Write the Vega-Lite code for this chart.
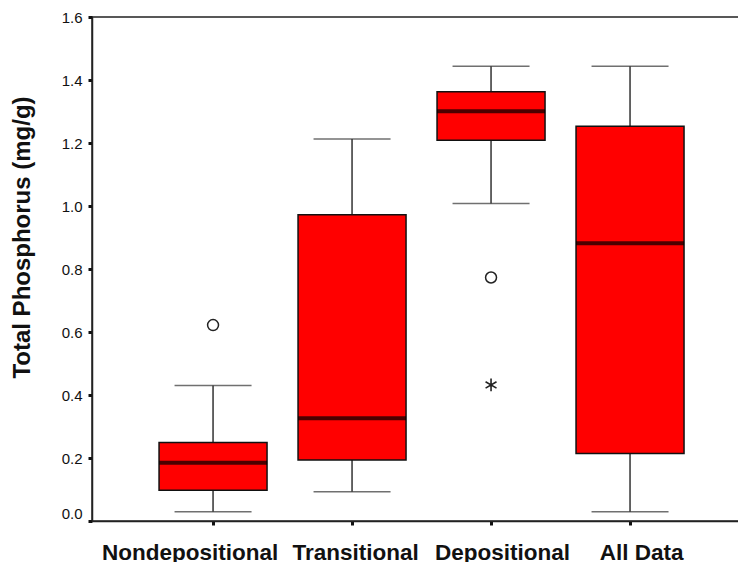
{
  "$schema": "https://vega.github.io/schema/vega-lite/v6.json",
  "width": 648,
  "height": 504,
  "autosize": "none",
  "padding": {"left": 92, "top": 17, "right": 0, "bottom": 45},
  "background": "white",
  "config": {
    "font": "Liberation Sans",
    "view": {"stroke": "#222222", "strokeWidth": 1.5},
    "axis": {"grid": false, "domainColor": "#222222", "domainWidth": 1.5, "tickColor": "#111111", "labelColor": "#111111", "titleColor": "#111111"}
  },
  "datasets": {
    "boxes": [
      {"zone": "Nondepositional", "lower": 0.029, "q1": 0.098, "median": 0.185, "q3": 0.249, "upper": 0.430},
      {"zone": "Transitional", "lower": 0.093, "q1": 0.194, "median": 0.326, "q3": 0.972, "upper": 1.213},
      {"zone": "Depositional", "lower": 1.008, "q1": 1.209, "median": 1.301, "q3": 1.363, "upper": 1.444},
      {"zone": "All Data", "lower": 0.029, "q1": 0.214, "median": 0.882, "q3": 1.253, "upper": 1.444}
    ],
    "outliers": [
      {"zone": "Nondepositional", "value": 0.622, "kind": "outlier"},
      {"zone": "Depositional", "value": 0.773, "kind": "outlier"},
      {"zone": "Depositional", "value": 0.432, "kind": "extreme"}
    ]
  },
  "encoding": {
    "x": {
      "field": "zone",
      "type": "nominal",
      "scale": {"type": "point", "domain": ["Nondepositional", "Transitional", "Depositional", "All Data"], "padding": 0.831, "align": 0.524},
      "axis": {
        "title": null,
        "labelAngle": 0,
        "labelFontSize": 22.5,
        "labelFontWeight": "bold",
        "labelPadding": 16,
        "labelOverlap": false,
        "labelOffset": {
          "condition": [
            {"test": "datum.value === 'Nondepositional'", "value": -23.5},
            {"test": "datum.value === 'Transitional'", "value": 3}
          ],
          "value": 11
        },
        "tickSize": 4,
        "tickWidth": 3
      }
    }
  },
  "layer": [
    {
      "data": {"name": "boxes"},
      "mark": {"type": "rule", "stroke": "#333333", "strokeWidth": 1.5},
      "encoding": {
        "y": {
          "field": "lower",
          "type": "quantitative",
          "scale": {"domain": [0, 1.6], "nice": false, "zero": false},
          "axis": {
            "title": "Total Phosphorus (mg/g)",
            "titleFontSize": 24,
            "titleFontWeight": "bold",
            "titlePadding": 27,
            "titleY": 220,
            "values": [0, 0.2, 0.4, 0.6, 0.8, 1.0, 1.2, 1.4, 1.6],
            "format": ".1f",
            "labelFontSize": 15,
            "labelPadding": 6,
            "labelBaseline": {"condition": {"test": "datum.value === 0", "value": "bottom"}, "value": "middle"},
            "tickSize": 4,
            "tickWidth": 3
          }
        },
        "y2": {"field": "upper"}
      }
    },
    {
      "data": {"name": "boxes"},
      "mark": {"type": "tick", "color": "#333333", "size": 77, "thickness": 1.5},
      "encoding": {"y": {"field": "lower", "type": "quantitative"}}
    },
    {
      "data": {"name": "boxes"},
      "mark": {"type": "tick", "color": "#333333", "size": 77, "thickness": 1.5},
      "encoding": {"y": {"field": "upper", "type": "quantitative"}}
    },
    {
      "data": {"name": "boxes"},
      "mark": {"type": "bar", "fill": "#FF0000", "stroke": "#111111", "strokeWidth": 1.5, "size": 108},
      "encoding": {
        "y": {"field": "q1", "type": "quantitative"},
        "y2": {"field": "q3"}
      }
    },
    {
      "data": {"name": "boxes"},
      "mark": {"type": "tick", "color": "#000000", "size": 108, "thickness": 4},
      "encoding": {"y": {"field": "median", "type": "quantitative"}}
    },
    {
      "data": {"name": "outliers"},
      "transform": [{"filter": "datum.kind === 'outlier'"}],
      "mark": {"type": "point", "shape": "circle", "filled": false, "stroke": "#222222", "strokeWidth": 1.5, "size": 120, "opacity": 1},
      "encoding": {"y": {"field": "value", "type": "quantitative"}}
    },
    {
      "data": {"name": "outliers"},
      "transform": [{"filter": "datum.kind === 'extreme'"}],
      "mark": {"type": "point", "shape": "M0,-1L0,1M-0.866,-0.5L0.866,0.5M-0.866,0.5L0.866,-0.5", "filled": false, "stroke": "#222222", "strokeWidth": 1.6, "size": 160, "opacity": 1},
      "encoding": {"y": {"field": "value", "type": "quantitative"}}
    }
  ]
}
